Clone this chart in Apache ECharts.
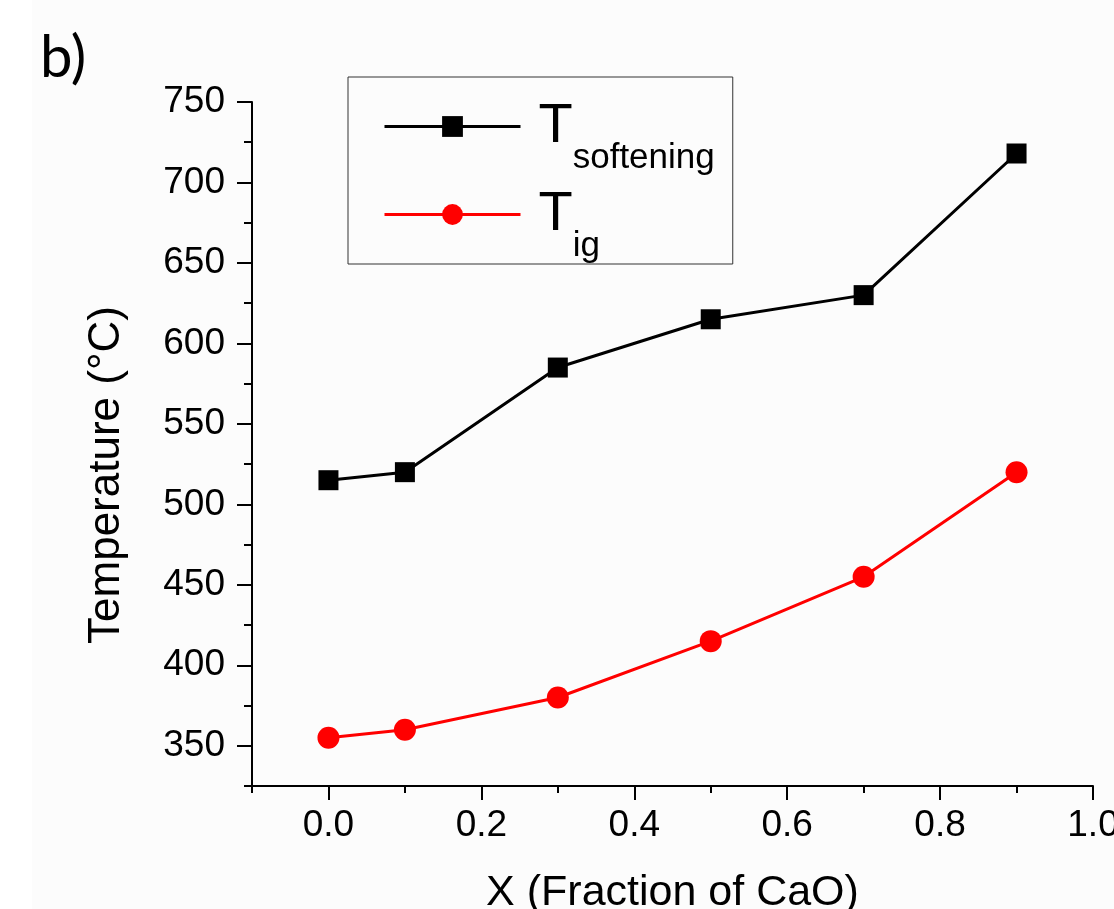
<!DOCTYPE html>
<html>
<head>
<meta charset="utf-8">
<script src="https://cdn.jsdelivr.net/npm/echarts@6/dist/echarts.min.js"></script>
<style>
  html, body { margin: 0; padding: 0; background: #fcfcfc; overflow: hidden; }
  #chart { width: 1114px; height: 909px; }
</style>
</head>
<body>
<div id="chart"></div>
<script>
// ---- data ----
const xValues = [0.0, 0.1, 0.3, 0.5, 0.7, 0.9];
const tSoftening = [515, 520, 585, 615, 630, 718];
const tIg = [355, 360, 380, 415, 455, 520];
const seriesNames = ['T_softening', 'T_ig'];
const xTickLabels = [0.0, 0.2, 0.4, 0.6, 0.8, 1.0];
const yTickLabels = [350, 400, 450, 500, 550, 600, 650, 700, 750];

const FONT = "'Liberation Sans', Arial, sans-serif";

const chart = echarts.init(document.getElementById('chart'), null, { renderer: 'canvas' });

const axisLine = { show: true, onZero: false, lineStyle: { color: '#000', width: 2 } };

const option = {
  animation: false,
  backgroundColor: '#fcfcfc',
  grid: { left: 252, right: 21, top: 102, bottom: 123, containLabel: false, outerBoundsMode: 'none' },
  graphic: [
    { type: 'rect', left: 0, top: 0, shape: { width: 32, height: 909 }, style: { fill: '#ffffff' }, z: -10, silent: true },
    { type: 'text', x: 40, y: 58, style: { text: 'b)', font: "58px Lato, 'Liberation Sans', sans-serif", fill: '#000', textVerticalAlign: 'middle', verticalAlign: 'middle' } }
  ],
  legend: {
    left: 348,
    top: 77,
    orient: 'vertical',
    data: seriesNames,
    itemWidth: 136,
    itemHeight: 26,
    itemGap: -11,
    padding: [0, 18, 0, 35],
    borderColor: '#333',
    borderWidth: 1,
    backgroundColor: 'transparent',
    selectedMode: false,
    lineStyle: { width: 3 },
    formatter: function (name) {
      return name === 'T_softening' ? '{T|T}{s|softening}' : '{T|T}{s|ig}';
    },
    textStyle: {
      color: '#000',
      fontFamily: FONT,
      rich: {
        T: { fontSize: 56, fontFamily: FONT, color: '#000', lineHeight: 60, verticalAlign: 'middle', padding: [0, 0, 0, 13] },
        s: { fontSize: 35, fontFamily: FONT, color: '#000', lineHeight: 40, verticalAlign: 'middle', padding: [64, 0, 0, 0] }
      }
    }
  },
  xAxis: [
    {
      type: 'value', min: -0.1, max: 1.0, interval: 0.1,
      name: 'X (Fraction of CaO)', nameLocation: 'middle', nameGap: 86,
      nameTextStyle: { fontSize: 43, fontFamily: FONT, color: '#000' },
      axisLine: axisLine,
      splitLine: { show: false },
      axisTick: { show: true, inside: false, length: 7, lineStyle: { color: '#000', width: 2 } },
      axisLabel: {
        show: true, customValues: xTickLabels, margin: 21,
        fontSize: 37, fontFamily: FONT, color: '#000',
        formatter: function (v) { return Number(v).toFixed(1); }
      }
    },
    {
      type: 'value', min: -0.1, max: 1.0, interval: 0.1, position: 'bottom', gridIndex: 0,
      axisLine: { show: false, onZero: false },
      splitLine: { show: false },
      axisTick: { show: true, inside: false, length: 14, customValues: xTickLabels, lineStyle: { color: '#000', width: 2 } },
      axisLabel: { show: false }
    }
  ],
  yAxis: [
    {
      type: 'value', min: 325, max: 750, interval: 25,
      name: 'Temperature (°C)', nameLocation: 'middle', nameGap: 123,
      nameTextStyle: { fontSize: 44, fontFamily: FONT, color: '#000', padding: [0, 62, 0, 0] },
      axisLine: axisLine,
      splitLine: { show: false },
      axisTick: { show: true, inside: false, length: 8, lineStyle: { color: '#000', width: 2 } },
      axisLabel: {
        show: true, customValues: yTickLabels, margin: 27,
        fontSize: 37, fontFamily: FONT, color: '#000'
      }
    },
    {
      type: 'value', min: 325, max: 750, interval: 25, position: 'left', gridIndex: 0,
      axisLine: { show: false, onZero: false },
      splitLine: { show: false },
      axisTick: { show: true, inside: false, length: 15, customValues: yTickLabels, lineStyle: { color: '#000', width: 2 } },
      axisLabel: { show: false }
    }
  ],
  series: [
    {
      name: seriesNames[0], type: 'line',
      data: xValues.map((x, i) => [x, tSoftening[i]]),
      symbol: 'rect', symbolSize: 20,
      itemStyle: { color: '#000' },
      lineStyle: { color: '#000', width: 3 },
      z: 3
    },
    {
      name: seriesNames[1], type: 'line',
      data: xValues.map((x, i) => [x, tIg[i]]),
      symbol: 'circle', symbolSize: 22,
      itemStyle: { color: '#ff0000' },
      lineStyle: { color: '#ff0000', width: 3 },
      z: 2
    }
  ]
};

chart.setOption(option);
</script>
</body>
</html>
